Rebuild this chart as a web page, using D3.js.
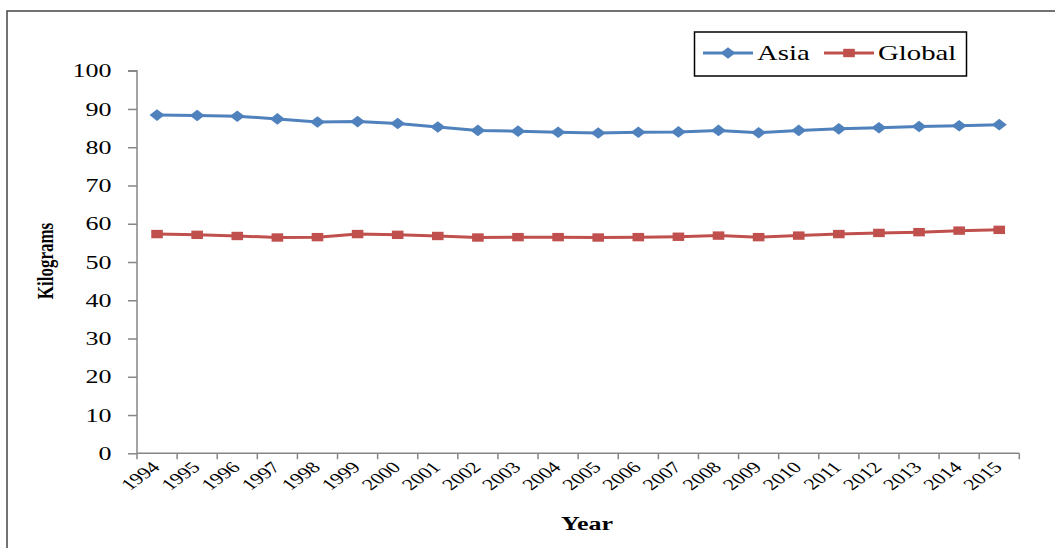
<!DOCTYPE html>
<html><head><meta charset="utf-8">
<script src="https://cdn.jsdelivr.net/npm/d3@7"></script>
<style>body{margin:0;background:#fff}svg{display:block}</style>
</head><body>
<svg id="c" width="1055" height="548"></svg>
<script>
const years = ["1994","1995","1996","1997","1998","1999","2000","2001","2002","2003","2004","2005","2006","2007","2008","2009","2010","2011","2012","2013","2014","2015"];
const asia = [88.4,88.3,88.1,87.4,86.6,86.7,86.2,85.3,84.4,84.2,83.9,83.7,83.9,84.0,84.4,83.8,84.4,84.8,85.1,85.4,85.6,85.9];
const global = [57.3,57.1,56.8,56.4,56.5,57.3,57.1,56.8,56.4,56.5,56.5,56.4,56.5,56.6,56.9,56.5,56.9,57.3,57.6,57.8,58.2,58.4];
const yTicks = [0,10,20,30,40,50,60,70,80,90,100];
const seriesNames = ["Asia","Global"];
const colors = ["#4F81BD","#C0504D"];

const svg = d3.select("#c");
const font = "'Liberation Serif','Times New Roman',serif";
const SX = 1.37; // horizontal stretch of the original picture

// outer frame
svg.append("rect").attr("x",7).attr("y",11).attr("width",1100).attr("height",600)
  .attr("fill","none").attr("stroke","#444").attr("stroke-width",1.5);

const pL = 137, pR = 1019.3, pT = 70.7, pB = 453.3;
const x = d3.scaleBand().domain(years).range([pL,pR]);
const y = d3.scaleLinear().domain([0,100]).range([pB,pT]);

// y axis
const ya = svg.append("g").attr("transform",`translate(${pL},0)`)
  .call(d3.axisLeft(y).tickValues(yTicks).tickSize(9).tickPadding(16));
ya.select(".domain").attr("stroke","#868686").attr("stroke-width",1.5).attr("d",`M-9,${pT}H0V${pB}`);
ya.selectAll(".tick line").attr("stroke","#868686").attr("stroke-width",1.5);
ya.selectAll(".tick text").attr("x",0).attr("transform",`translate(-25.5,0) scale(${SX},1)`)
  .attr("font-family",font).attr("font-size",19).attr("fill","#000");

// x axis
const xa = svg.append("g").attr("transform",`translate(0,${pB})`);
xa.append("path").attr("d",`M${pL},0H${pR}`).attr("stroke","#868686").attr("stroke-width",1.5);
const bounds = years.map(d=>x(d)).concat([pR]);
xa.selectAll("line.tk").data(bounds).join("line").attr("class","tk")
  .attr("x1",d=>d).attr("x2",d=>d).attr("y1",0).attr("y2",6)
  .attr("stroke","#868686").attr("stroke-width",1.5);
xa.selectAll("text").data(years).join("text")
  .attr("transform",d=>`translate(${x(d)+x.bandwidth()/2+4},${15}) scale(${SX},1) rotate(-45)`)
  .attr("text-anchor","end").attr("font-family",font).attr("font-size",16).attr("fill","#000")
  .text(d=>d);

// axis titles
svg.append("text").attr("transform",`translate(53,261) scale(${SX},1) rotate(-90)`).attr("text-anchor","middle")
  .attr("font-family",font).attr("font-size",17).attr("font-weight","bold").text("Kilograms");
svg.append("text").attr("transform",`translate(587,530) scale(${SX},1)`).attr("text-anchor","middle")
  .attr("font-family",font).attr("font-size",19).attr("font-weight","bold").text("Year");

const cx = d => x(d)+x.bandwidth()/2;
const diamond = "M-7.5,0L0,-5.8L7.5,0L0,5.8Z";
const square = "M-5.8,-4.2H5.8V4.2H-5.8Z";
const data = [asia, global];
const shapes = [diamond, square];
data.forEach((vals,i)=>{
  const pts = years.map((yr,j)=>[cx(yr), y(vals[j])]);
  svg.append("path").attr("d",d3.line()(pts)).attr("fill","none")
    .attr("stroke",colors[i]).attr("stroke-width",3);
  svg.selectAll(null).data(pts).join("path")
    .attr("transform",p=>`translate(${p[0]},${p[1]})`).attr("d",shapes[i]).attr("fill",colors[i]);
});

// legend
const lg = svg.append("g");
lg.append("rect").attr("x",694.5).attr("y",32).attr("width",272).attr("height",44)
  .attr("fill","#fff").attr("stroke","#000").attr("stroke-width",1.5);
const lx = [703, 824];
seriesNames.forEach((n,i)=>{
  lg.append("line").attr("x1",lx[i]).attr("x2",lx[i]+50).attr("y1",53).attr("y2",53)
    .attr("stroke",colors[i]).attr("stroke-width",3);
  lg.append("path").attr("transform",`translate(${lx[i]+25},53)`).attr("d",shapes[i]).attr("fill",colors[i]);
  lg.append("text").attr("transform",`translate(${lx[i]+54},60) scale(${SX},1)`).attr("font-family",font).attr("font-size",21)
    .attr("fill","#000").text(n);
});
</script>
</body></html>
